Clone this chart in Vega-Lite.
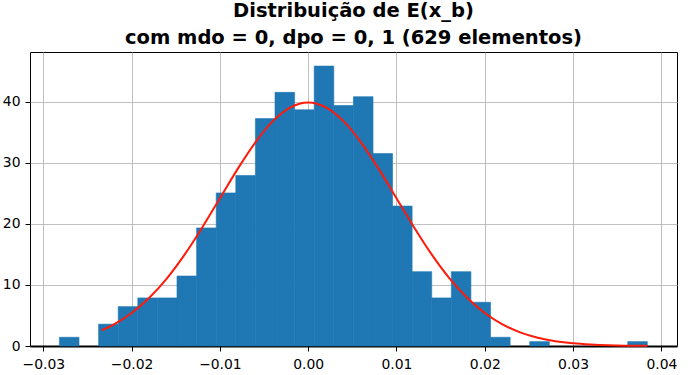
{
  "$schema": "https://vega.github.io/schema/vega-lite/v6.json",
  "width": 647,
  "height": 294,
  "autosize": {"type": "none"},
  "padding": {"left": 30, "top": 52, "right": 14, "bottom": 29},
  "background": "white",
  "title": {
    "text": ["Distribuição de E(x_b)", "com mdo = 0, dpo = 0, 1 (629 elementos)"],
    "font": "DejaVu Sans",
    "fontSize": 19.5,
    "fontWeight": "bold",
    "lineHeight": 26.5,
    "color": "black",
    "anchor": "middle",
    "frame": "group",
    "offset": 4
  },
  "config": {
    "view": {"stroke": "black", "strokeWidth": 1},
    "axis": {
      "labelFont": "DejaVu Sans",
      "labelFontSize": 13.9,
      "labelColor": "black",
      "tickColor": "black",
      "tickSize": 5,
      "tickWidth": 1,
      "gridColor": "#b0b0b0",
      "gridWidth": 0.8,
      "gridOpacity": 1,
      "title": null,
      "zindex": 1
    }
  },
  "datasets": {
    "bars": [
      {"x0": -0.02818, "x1": -0.02596, "density": 1.43},
      {"x0": -0.02374, "x1": -0.02152, "density": 3.58},
      {"x0": -0.02152, "x1": -0.01930, "density": 6.45},
      {"x0": -0.01930, "x1": -0.01708, "density": 7.88},
      {"x0": -0.01708, "x1": -0.01486, "density": 7.88},
      {"x0": -0.01486, "x1": -0.01264, "density": 11.46},
      {"x0": -0.01264, "x1": -0.01042, "density": 19.34},
      {"x0": -0.01042, "x1": -0.00820, "density": 25.07},
      {"x0": -0.00820, "x1": -0.00598, "density": 27.93},
      {"x0": -0.00598, "x1": -0.00376, "density": 37.24},
      {"x0": -0.00376, "x1": -0.00154, "density": 41.54},
      {"x0": -0.00154, "x1": 0.00068, "density": 38.68},
      {"x0": 0.00068, "x1": 0.00290, "density": 45.84},
      {"x0": 0.00290, "x1": 0.00512, "density": 39.39},
      {"x0": 0.00512, "x1": 0.00734, "density": 40.83},
      {"x0": 0.00734, "x1": 0.00955, "density": 31.51},
      {"x0": 0.00955, "x1": 0.01177, "density": 22.92},
      {"x0": 0.01177, "x1": 0.01399, "density": 12.18},
      {"x0": 0.01399, "x1": 0.01621, "density": 7.88},
      {"x0": 0.01621, "x1": 0.01843, "density": 12.18},
      {"x0": 0.01843, "x1": 0.02065, "density": 7.16},
      {"x0": 0.02065, "x1": 0.02287, "density": 1.43},
      {"x0": 0.02509, "x1": 0.02731, "density": 0.72},
      {"x0": 0.03619, "x1": 0.03841, "density": 0.72}
    ],
    "curve": [
      {"x": -0.0234, "y": 2.58},
      {"x": -0.022, "y": 3.55},
      {"x": -0.020, "y": 5.40},
      {"x": -0.018, "y": 7.90},
      {"x": -0.016, "y": 11.09},
      {"x": -0.014, "y": 14.97},
      {"x": -0.012, "y": 19.42},
      {"x": -0.010, "y": 24.20},
      {"x": -0.008, "y": 28.97},
      {"x": -0.006, "y": 33.32},
      {"x": -0.004, "y": 36.83},
      {"x": -0.002, "y": 39.10},
      {"x": 0.000, "y": 39.89},
      {"x": 0.002, "y": 39.10},
      {"x": 0.004, "y": 36.83},
      {"x": 0.006, "y": 33.32},
      {"x": 0.008, "y": 28.97},
      {"x": 0.010, "y": 24.20},
      {"x": 0.012, "y": 19.42},
      {"x": 0.014, "y": 14.97},
      {"x": 0.016, "y": 11.09},
      {"x": 0.018, "y": 7.90},
      {"x": 0.020, "y": 5.40},
      {"x": 0.022, "y": 3.55},
      {"x": 0.024, "y": 2.24},
      {"x": 0.026, "y": 1.36},
      {"x": 0.028, "y": 0.79},
      {"x": 0.030, "y": 0.44},
      {"x": 0.032, "y": 0.24},
      {"x": 0.034, "y": 0.12},
      {"x": 0.036, "y": 0.06},
      {"x": 0.038, "y": 0.03},
      {"x": 0.0384, "y": 0.025}
    ]
  },
  "layer": [
    {
      "data": {"name": "bars"},
      "mark": {"type": "rect", "color": "#1f77b4", "stroke": "#1f77b4", "strokeWidth": 0.6},
      "encoding": {
        "x": {
          "field": "x0", "type": "quantitative",
          "scale": {"domain": [-0.03151, 0.04177], "nice": false, "zero": false},
          "axis": {
            "values": [-0.03, -0.02, -0.01, 0, 0.01, 0.02, 0.03, 0.04],
            "format": ".2f",
            "labelPadding": 6,
            "domainColor": "black",
            "domainWidth": 2,
            "grid": true
          }
        },
        "x2": {"field": "x1"},
        "y": {
          "field": "density", "type": "quantitative",
          "scale": {"domain": [0, 48.15], "nice": false},
          "axis": {
            "values": [0, 10, 20, 30, 40],
            "labelPadding": 5,
            "domain": false,
            "grid": true
          }
        },
        "y2": {"datum": 0}
      }
    },
    {
      "data": {"name": "curve"},
      "mark": {"type": "line", "color": "#ff1a0a", "strokeWidth": 2, "interpolate": "monotone"},
      "encoding": {
        "x": {"field": "x", "type": "quantitative"},
        "y": {"field": "y", "type": "quantitative"}
      }
    }
  ]
}
